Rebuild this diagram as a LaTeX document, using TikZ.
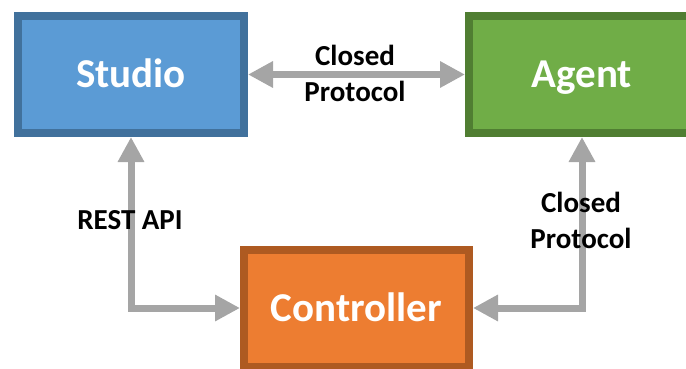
\documentclass[tikz,border=0pt]{standalone}
\usepackage{fontspec}
\setmainfont{Carlito}
\usetikzlibrary{arrows.meta}
\definecolor{sfill}{HTML}{5B9BD5}
\definecolor{sdraw}{HTML}{41719C}
\definecolor{afill}{HTML}{70AD47}
\definecolor{adraw}{HTML}{507E32}
\definecolor{cfill}{HTML}{ED7D31}
\definecolor{cdraw}{HTML}{AE5A21}
\definecolor{arr}{HTML}{A5A5A5}
\begin{document}
\begin{tikzpicture}[x=1pt,y=-1pt,
  boxnode/.style={rectangle, line width=8pt, minimum width=226pt, minimum height=117pt,
    text=white, font=\fontsize{41}{49}\selectfont\bfseries, inner sep=0pt,
    text height=30pt, text depth=4pt},
  conn/.style={draw=arr, line width=7pt, {Triangle[length=25pt,width=25pt]}-{Triangle[length=25pt,width=25pt]}},
  lbl/.style={font=\fontsize{29}{36}\selectfont\bfseries, align=center, text=black, inner sep=0pt, anchor=base}]
\useasboundingbox (0,0) rectangle (686,369);
\begin{scope}
\clip (0,0) rectangle (686,369);
\node[boxnode, fill=sfill, draw=sdraw] (studio) at (131,74.5) {Studio};
\node[boxnode, fill=afill, draw=adraw] (agent) at (582,74.5) {Agent};
\node[boxnode, fill=cfill, draw=cdraw, minimum width=225pt] (ctrl) at (356.5,308) {Controller};
\draw[conn] (studio.east) -- (agent.west);
\draw[conn] (studio.south) |- (ctrl.west);
\draw[conn] (agent.south) |- (ctrl.east);
\node[lbl] (l1) at (355,102) {Closed\\Protocol};
\node[lbl] (l2) at (130,229) {REST API};
\node[lbl] (l3) at (581,248) {Closed\\Protocol};
\end{scope}
\end{tikzpicture}
\end{document}
